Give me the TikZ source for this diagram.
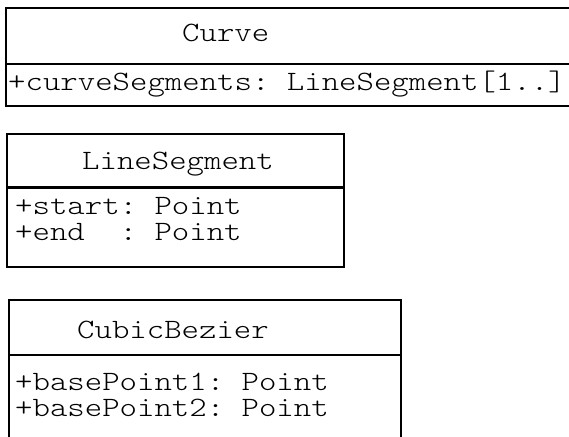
\documentclass[tikz,border=0pt]{standalone}
\usepackage{fontspec}
\newfontfamily\umlfont[FakeStretch=1.185]{lmmonolt10-regular.otf}
\newcommand{\umlsize}{\fontsize{28bp}{28bp}\selectfont\frenchspacing}

\tikzset{
  umlline/.style={line width=1.5bp, draw=black},
  umlsplit/.style={line width=3bp, draw=black},
  umltext/.style={anchor=base west, inner sep=0pt, font=\umlfont\umlsize},
}

\begin{document}
\begin{tikzpicture}[x=1bp,y=-1bp]
   \useasboundingbox (0,0) rectangle (569,437);
   \clip (0,0) rectangle (569,437);
   % Curve (runs off on the right)
   \draw[umlline] (600,8) -- (6,8) -- (6,106) -- (600,106);
   \draw[umlline] (6,64) -- (600,64);
   \node[umltext] (curve)    at (182, 42) {Curve};
   \node[umltext] (curveseg) at (  8, 91) {+curveSegments: LineSegment[1..]};
   % LineSegment
   \draw[umlline]  (7,134) rectangle (344,267);
   \draw[umlsplit] (7,188) -- (344,188);
   \node[umltext] (lineseg)  at ( 82,170) {LineSegment};
   \node[umltext] (segstart) at ( 15,215) {+start: Point};
   \node[umltext] (segend)   at ( 15,241) {+end\ \ : Point};
   % CubicBezier (runs off at the bottom)
   \draw[umlline] (9,470) -- (9,300) -- (401,300) -- (401,470);
   \draw[umlline] (9,355) -- (401,355);
   \node[umltext] (cubic)    at ( 77,338) {CubicBezier};
   \node[umltext] (basept1)  at ( 15,390) {+basePoint1: Point};
   \node[umltext] (basept2)  at ( 15,416) {+basePoint2: Point};
\end{tikzpicture}
\end{document}
